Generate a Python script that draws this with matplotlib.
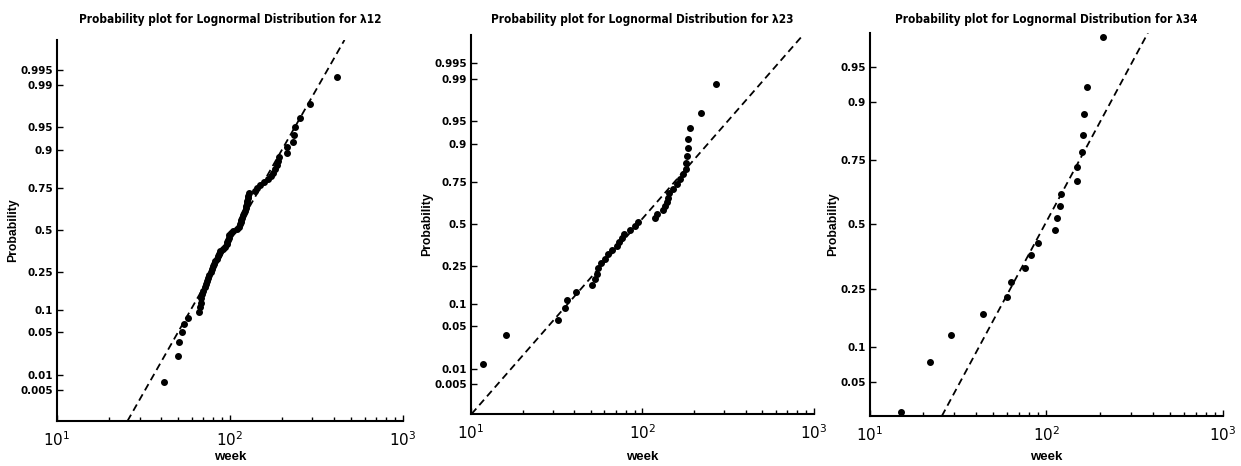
import matplotlib
matplotlib.use("Agg")
import matplotlib.pyplot as plt
import matplotlib.font_manager as fm
import numpy as np
from statistics import NormalDist
from matplotlib.ticker import FixedLocator, NullFormatter

weeks_12 = [41.3, 49.9, 51.0, 53.1, 54.3, 57.0, 66.5, 67.1, 67.7, 68.3,
            69.2, 70.2, 71.4, 72.7, 73.7, 75.0, 76.0, 77.3, 78.7, 80.1,
            81.2, 82.3, 83.8, 84.9, 86.0, 87.6, 90.7, 93.6, 95.7, 96.5,
            97.4, 98.2, 99.1, 100.9, 104.5, 109.3, 112.2, 114.2, 115.2, 116.3,
            117.8, 119.4, 121.0, 122.0, 123.1, 124.2, 125.3, 125.9, 127.0, 127.6,
            128.1, 139.4, 143.8, 149.0, 157.1, 166.4, 171.6, 177.8, 182.6, 185.8,
            188.4, 190.9, 212.3, 214.2, 229.9, 234.0, 237.1, 255.7, 292.1, 418.0]
weeks_23 = [11.7, 16.1, 32.3, 35.5, 36.5, 41.0, 51.0, 53.0, 54.0, 55.1,
            57.6, 60.2, 63.1, 66.0, 70.6, 73.2, 75.5, 77.9, 84.4, 90.2,
            94.4, 118.0, 120.8, 132.0, 135.0, 139.0, 141.0, 143.0, 151.0, 158.0,
            165.0, 172.5, 178.7, 180.4, 182.0, 184.5, 185.4, 190.5, 220.8, 267.0]
weeks_34 = [15.0, 21.9, 28.8, 44.0, 59.6, 63.1, 75.7, 81.8, 90.1, 112.0,
            114.5, 119.5, 120.6, 148.6, 148.6, 160.0, 160.7, 164.3, 169.4, 208.7]

# fitted lognormal parameters (mu, sigma of ln week)
fit_12 = (4.69, 0.472)
fit_23 = (4.543, 0.732)
fit_34 = (4.585, 0.672)

probs_wide = [0.005, 0.01, 0.05, 0.1, 0.25, 0.5, 0.75, 0.9, 0.95, 0.99, 0.995]
probs_narrow = [0.05, 0.1, 0.25, 0.5, 0.75, 0.9, 0.95]
titles = ["Probability plot for Lognormal Distribution for \u03bb12",
          "Probability plot for Lognormal Distribution for \u03bb23",
          "Probability plot for Lognormal Distribution for \u03bb34"]

# pick a condensed face if one is installed, otherwise plain Liberation Sans a bit smaller
font_names = {f.name for f in fm.fontManager.ttflist}
condensed_dejavu = any(f.name == "DejaVu Sans" and "condensed" in str(f.stretch)
                       for f in fm.fontManager.ttflist)
if "Liberation Sans Narrow" in font_names:
    NARROW = dict(family="Liberation Sans Narrow")
    scale = 1.0
elif condensed_dejavu:
    NARROW = dict(family="DejaVu Sans", fontstretch="condensed")
    scale = 0.9
else:
    NARROW = dict(family="Liberation Sans")
    scale = 0.82

nd = NormalDist()
H = 466  # figure height in pixels


def prob_panel(fig, ax, weeks, fit, zlim, probs, title):
    x = np.sort(np.array(weeks))
    n = len(x)
    z = [nd.inv_cdf((i - 0.5) / n) for i in range(1, n + 1)]
    mu, sigma = fit
    zl = np.array(zlim)
    ax.plot(np.exp(mu + sigma * zl), zl, color="black", lw=1.3,
            linestyle=(0, (4, 2.5)))
    ax.plot(x, z, "o", color="black", ms=4)

    ax.set_xscale("log")
    ax.set_xlim(10, 1000)
    ax.set_ylim(zl)
    ax.yaxis.set_major_locator(FixedLocator([nd.inv_cdf(p) for p in probs]))
    ax.set_yticklabels([f"{p:g}" for p in probs], fontsize=9.2 * scale,
                       fontweight="bold", **NARROW)
    ax.set_xticks([10, 100, 1000])
    ax.set_xticklabels(["$10^1$", "$10^2$", "$10^3$"], fontsize=11)
    ax.xaxis.set_minor_formatter(NullFormatter())

    for s in ["top", "right"]:
        ax.spines[s].set_visible(False)
    for s in ["left", "bottom"]:
        ax.spines[s].set_linewidth(1.5)
    ax.tick_params(axis="both", which="major", direction="in", length=4, width=1)
    ax.tick_params(axis="y", pad=3)
    ax.tick_params(axis="x", which="minor", direction="in", length=3, width=1)
    ax.tick_params(axis="x", pad=7)

    box = ax.get_position()
    xc = (box.x0 + box.x1) / 2
    fig.text(xc, 1 - 20 / H, title, ha="center", va="center",
             fontsize=9.4 * scale, fontweight="bold", **NARROW)

    ax.set_xlabel("week", family="Liberation Sans", fontsize=9.5, fontweight="bold")
    ax.xaxis.set_label_coords(xc, 1 - 457 / H, transform=fig.transFigure)
    ax.xaxis.label.set_va("center")
    ax.set_ylabel("Probability", family="Liberation Sans", fontsize=8.8,
                  fontweight="bold", labelpad=1)


fig = plt.figure(figsize=(12.41, 4.66), dpi=100)
ax1 = fig.add_axes([0.0459, 0.0966, 0.2788, 0.8176])
ax2 = fig.add_axes([0.3795, 0.1116, 0.2764, 0.8133])
ax3 = fig.add_axes([0.7010, 0.1073, 0.2844, 0.8219])

prob_panel(fig, ax1, weeks_12, fit_12, (-3.07, 3.05), probs_wide, titles[0])
prob_panel(fig, ax2, weeks_23, fit_23, (-3.05, 3.03), probs_wide, titles[1])
prob_panel(fig, ax3, weeks_34, fit_34, (-2.0, 2.0), probs_narrow, titles[2])

fig.savefig("out.png", dpi=100)
